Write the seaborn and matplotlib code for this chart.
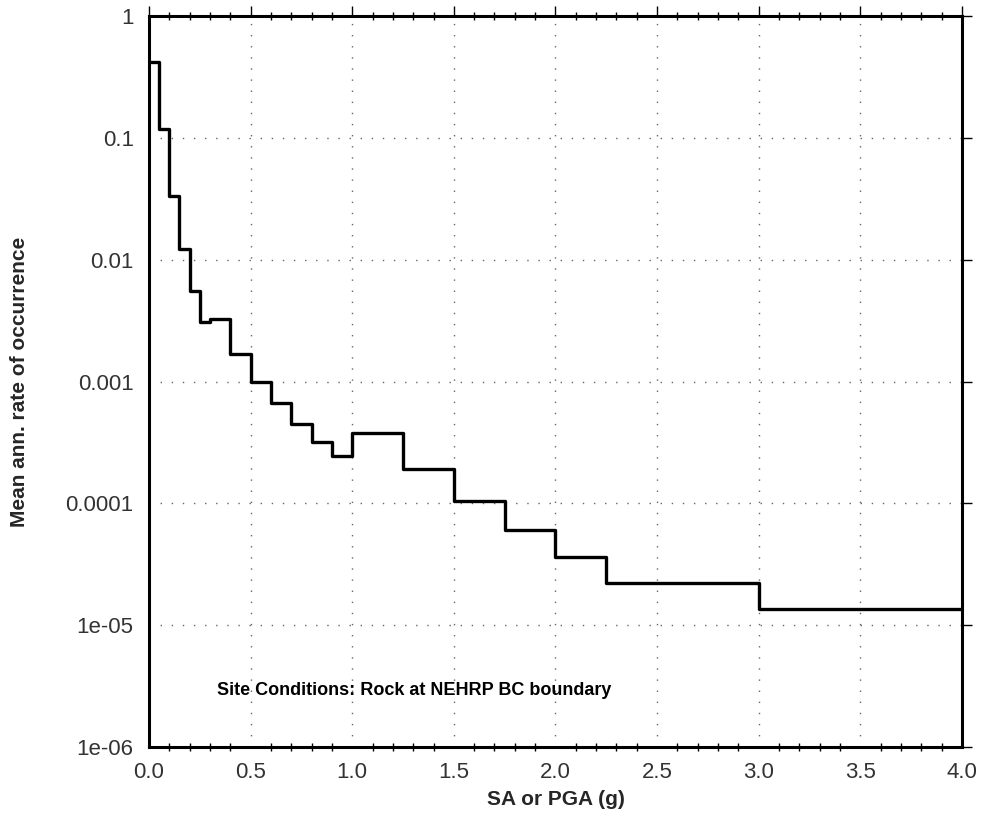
import numpy as np
import pandas as pd
import matplotlib
matplotlib.use("Agg")
import matplotlib.pyplot as plt
import seaborn as sns
from matplotlib.ticker import FixedLocator, FixedFormatter, MultipleLocator

# ---- data ----
sa_edges = [0.0, 0.05, 0.1, 0.15, 0.2, 0.25, 0.3, 0.4, 0.5, 0.6, 0.7, 0.8, 0.9,
            1.0, 1.25, 1.5, 1.75, 2.0, 2.25, 3.0, 4.0]
rates = [0.42, 0.119, 0.0334, 0.0122, 0.0055, 0.00308, 0.00328, 0.00167, 0.00100,
         0.00066, 0.00045, 0.00032, 0.000243, 0.000378, 0.00019, 0.000104,
         0.0000604, 0.000036, 0.0000223, 0.0000136]
y_tick_values = [1, 0.1, 0.01, 0.001, 0.0001, 1e-05, 1e-06]
y_tick_labels = ["1", "0.1", "0.01", "0.001", "0.0001", "1e-05", "1e-06"]
x_tick_values = [0.0, 0.5, 1.0, 1.5, 2.0, 2.5, 3.0, 3.5, 4.0]
x_tick_labels = ["0.0", "0.5", "1.0", "1.5", "2.0", "2.5", "3.0", "3.5", "4.0"]
annotation = "Site Conditions: Rock at NEHRP BC boundary"
x_label = "SA or PGA (g)"
y_label = "Mean ann. rate of occurrence"

sns.set_theme(style="white")
plt.rcParams["font.family"] = ["Liberation Sans", "DejaVu Sans"]

df = pd.DataFrame({"sa": sa_edges, "rate": rates + [rates[-1]]})

fig = plt.figure(figsize=(9.84, 8.24), dpi=100)
ax = fig.add_axes([0.1514, 0.0934, 0.8262, 0.8872])

sns.lineplot(data=df, x="sa", y="rate", ax=ax, color="black", linewidth=2.4,
             drawstyle="steps-post", estimator=None, sort=True, zorder=3)

ax.set_yscale("log")
ax.set_xlim(0, 4)
ax.set_ylim(1e-6, 1)

ax.yaxis.set_major_locator(FixedLocator(y_tick_values))
ax.yaxis.set_major_formatter(FixedFormatter(y_tick_labels))
ax.yaxis.set_minor_locator(FixedLocator([]))
ax.xaxis.set_major_locator(FixedLocator(x_tick_values))
ax.xaxis.set_major_formatter(FixedFormatter(x_tick_labels))
ax.xaxis.set_minor_locator(MultipleLocator(0.1))

ax.grid(True, which="major", color="#666666", linestyle=(0, (1, 7)), linewidth=1.0)

for s in ax.spines.values():
    s.set_visible(True)
    s.set_color("black")
    s.set_linewidth(2.2)

ax.tick_params(axis="both", which="major", labelsize=16, labelcolor="#333333",
               direction="out", length=7, width=1, color="black", pad=4,
               top=True, right=True)
ax.tick_params(axis="x", which="minor", direction="inout", length=6, width=1,
               color="black", bottom=True, top=True)

ax.set_xlabel(x_label, fontsize=15, fontweight="bold", labelpad=5)
ax.set_ylabel(y_label, fontsize=15, fontweight="bold", labelpad=26)

ax.text(0.335, 2.9e-6, annotation, fontsize=13, fontweight="bold",
        ha="left", va="center", color="black")

fig.savefig("out.png", dpi=100)
